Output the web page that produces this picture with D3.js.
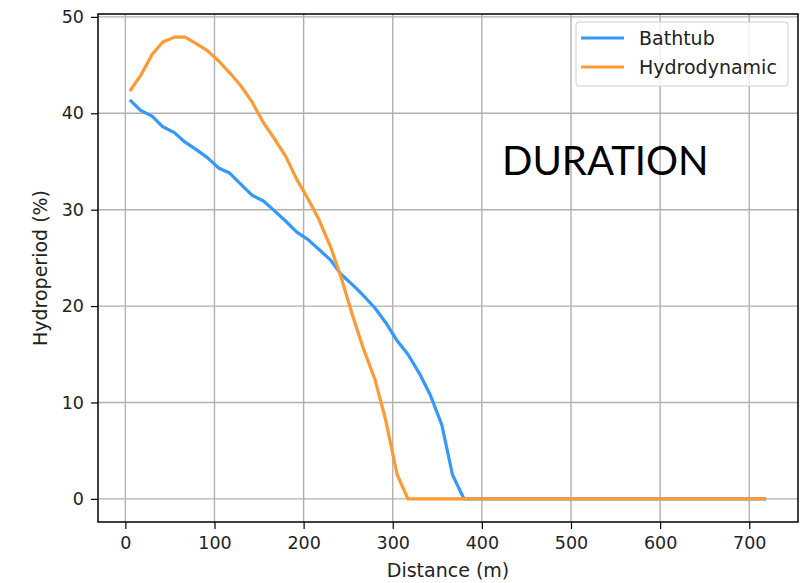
<!DOCTYPE html>
<html><head><meta charset="utf-8">
<script src="https://cdn.jsdelivr.net/npm/d3@7"></script>
<style>
body{margin:0;background:#fff;}
svg text{font-family:"DejaVu Sans",sans-serif;fill:#222;}
</style></head>
<body><svg id="c" width="810" height="583"></svg>
<script>
const distance = [5,17,30,42,55,67,80,92,105,117,130,142,155,167,180,192,205,217,230,242,255,267,280,292,305,317,330,342,355,367,380,719];
const bathtub = [41.4,40.3,39.7,38.6,38.0,37.0,36.2,35.4,34.3,33.8,32.6,31.5,30.9,29.9,28.8,27.7,26.9,25.9,24.8,23.3,22.2,21.1,19.8,18.3,16.4,15.0,13.0,10.8,7.7,2.5,0,0];
const hydrodynamic = [42.3,43.9,46.1,47.4,47.9,47.9,47.2,46.5,45.4,44.2,42.8,41.2,39.0,37.4,35.5,33.2,31.1,29.0,26.2,23.0,19.0,15.6,12.4,8.2,2.5,0,0,0,0,0,0,0];
const xTicks = [0,100,200,300,400,500,600,700];
const yTicks = [0,10,20,30,40,50];
const seriesNames = ["Bathtub","Hydrodynamic"];
const colors = ["#3399ff","#ff9933"];

const svg = d3.select("#c");
const L=98, R=798, T=14, B=522;
const x = d3.scaleLinear().domain([-30.7,754.7]).range([L,R]);
const y = d3.scaleLinear().domain([-2.4,50.3]).range([B,T]);

// grid
const g = svg.append("g");
g.selectAll(".gx").data(xTicks).enter().append("line")
 .attr("x1",d=>x(d)).attr("x2",d=>x(d)).attr("y1",T).attr("y2",B)
 .attr("stroke","#b0b0b0").attr("stroke-width",1.4);
g.selectAll(".gy").data(yTicks).enter().append("line")
 .attr("y1",d=>y(d)).attr("y2",d=>y(d)).attr("x1",L).attr("x2",R)
 .attr("stroke","#b0b0b0").attr("stroke-width",1.4);

// lines
const series = [bathtub, hydrodynamic];
const line = d3.line().x((d,i)=>x(distance[i])).y(d=>y(d));
series.forEach((s,k)=>{
  svg.append("path").datum(s).attr("d",line).attr("fill","none")
   .attr("stroke",colors[k]).attr("stroke-width",3.2).attr("stroke-linejoin","round");
});

// axes
const xa = svg.append("g").attr("transform",`translate(0,${B})`)
 .call(d3.axisBottom(x).tickValues(xTicks).tickSize(7).tickPadding(8));
const ya = svg.append("g").attr("transform",`translate(${L},0)`)
 .call(d3.axisLeft(y).tickValues(yTicks).tickSize(7).tickPadding(7));
[xa,ya].forEach(a=>{
  a.select(".domain").remove();
  a.selectAll("line").attr("stroke","#000").attr("stroke-width",1.2);
  a.selectAll("text").style("font-family","DejaVu Sans").style("font-size","17.5px").attr("fill","#222");
});
svg.append("rect").attr("x",L).attr("y",T).attr("width",R-L).attr("height",B-T)
 .attr("fill","none").attr("stroke","#000").attr("stroke-width",1.5);

// axis labels
svg.append("text").attr("x",(L+R)/2).attr("y",577).attr("text-anchor","middle")
 .style("font-size","19px").text("Distance (m)");
svg.append("text").attr("transform",`translate(47,${(T+B)/2}) rotate(-90)`)
 .attr("text-anchor","middle").style("font-size","19px").text("Hydroperiod (%)");

// legend
const lg = svg.append("g");
lg.append("rect").attr("x",576).attr("y",22).attr("width",212).attr("height",64).attr("rx",3)
 .attr("fill","#fff").attr("fill-opacity",0.8).attr("stroke","#d0d0d0");
seriesNames.forEach((n,i)=>{
  const yy = 38 + i*29;
  lg.append("line").attr("x1",581).attr("x2",624).attr("y1",yy).attr("y2",yy)
   .attr("stroke",colors[i]).attr("stroke-width",3.2);
  lg.append("text").attr("x",639).attr("y",yy+7).style("font-size","19px").text(n);
});

// annotation
svg.append("text").attr("x",502).attr("y",175).style("font-family","Lato, 'Open Sans', sans-serif")
 .style("font-size","40px").style("fill","#000").text("DURATION");
</script></body></html>
